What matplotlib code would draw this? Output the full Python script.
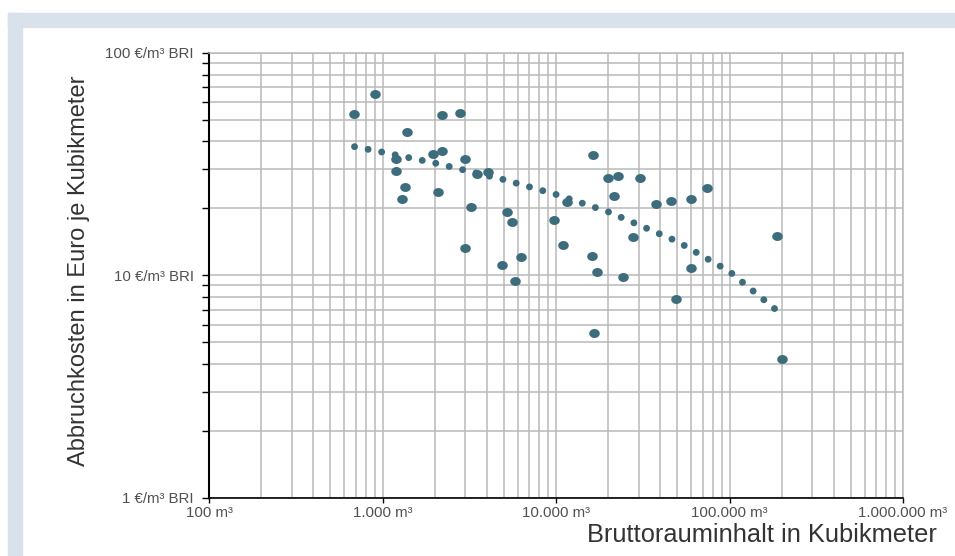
import matplotlib
matplotlib.use("Agg")
import matplotlib.pyplot as plt
import numpy as np
from matplotlib.path import Path
from matplotlib.markers import MarkerStyle
from matplotlib.patches import Rectangle
from matplotlib.ticker import FixedLocator, FixedFormatter, LogLocator, NullFormatter

# ---- data ----
volume_m3 = [688, 902, 2190, 2800, 1390, 1196, 1196, 1353, 1295, 1963, 2193, 2097,
             2989, 3491, 4074, 3223, 2989, 5198, 5578, 4864, 6310, 5827, 9739, 10930,
             11530, 16400, 16190, 17160, 16560, 19940, 22860, 30690, 21650, 27790,
             24240, 37710, 45810, 59760, 74470, 59760, 49350, 188600, 199900]
cost_eur = [53.3, 65.4, 52.6, 53.5, 44.0, 33.5, 29.5, 24.9, 22.0, 35.1, 36.2, 23.6,
            33.3, 28.5, 29.2, 20.2, 13.2, 19.2, 17.3, 11.1, 12.05, 9.46, 17.8, 13.7,
            21.4, 34.8, 12.2, 10.4, 5.5, 27.3, 28.1, 27.3, 22.7, 14.8,
            9.86, 20.9, 21.5, 22.0, 24.7, 10.75, 7.82, 15.1, 4.19]

trend_x = [690, 1000, 2000, 5000, 10000, 20000, 50000, 100000, 186000]
trend_y = [37.9, 35.8, 32.0, 26.95, 23.1, 19.3, 14.2, 10.4, 6.98]
trend_dots = 34  # number of dots in the dotted trend curve

x_ticks = [100, 1000, 10000, 100000, 1000000]
x_labels = ["100 m³", "1.000 m³", "10.000 m³", "100.000 m³", "1.000.000 m³"]
y_ticks = [1, 10, 100]
y_labels = ["1 €/m³ BRI", "10 €/m³ BRI", "100 €/m³ BRI"]

x_title = "Bruttorauminhalt in Kubikmeter"
y_title = "Abbruchkosten in Euro je Kubikmeter"

# ---- style ----
W, H = 955, 556
DOT = "#3d6c7c"
GRID = "#b9b9b9"
FRAME = "#d9e2ea"
TICKC = "#505050"
TITLEC = "#333333"
narrow = ["Liberation Sans Narrow", "Liberation Sans", "DejaVu Sans"]
regular = ["Liberation Sans", "DejaVu Sans"]

fig = plt.figure(figsize=(W / 100, H / 100), dpi=100)
fig.patch.set_facecolor("white")

# light frame (top and left bands)
fig.patches.append(Rectangle((8 / W, 1 - 27 / H), (W - 8) / W, 14 / H,
                             transform=fig.transFigure, color=FRAME, zorder=0))
fig.patches.append(Rectangle((8 / W, 0), 14 / W, (H - 13) / H,
                             transform=fig.transFigure, color=FRAME, zorder=0))

left, right, top, bottom = 209, 903, 53, 497.6
ax = fig.add_axes([left / W, 1 - bottom / H, (right - left) / W, (bottom - top) / H])
ax.set_xscale("log")
ax.set_yscale("log")
ax.set_xlim(100, 1e6)
ax.set_ylim(1, 100)

ax.xaxis.set_major_locator(FixedLocator(x_ticks))
ax.xaxis.set_major_formatter(FixedFormatter(x_labels))
ax.yaxis.set_major_locator(FixedLocator(y_ticks))
ax.yaxis.set_major_formatter(FixedFormatter(y_labels))
ax.xaxis.set_minor_locator(LogLocator(base=10, subs=np.arange(2, 10)))
ax.yaxis.set_minor_locator(LogLocator(base=10, subs=np.arange(2, 10)))
ax.xaxis.set_minor_formatter(NullFormatter())
ax.yaxis.set_minor_formatter(NullFormatter())

ax.grid(True, which="both", color=GRID, linewidth=1.1, zorder=0)
ax.set_axisbelow(True)

for s in ["top", "right"]:
    ax.spines[s].set_color(GRID)
    ax.spines[s].set_linewidth(1.1)
ax.spines["left"].set_color("black")
ax.spines["left"].set_linewidth(1.5)
ax.spines["bottom"].set_color("black")
ax.spines["bottom"].set_linewidth(1.2)

ax.tick_params(axis="y", which="both", direction="out", length=5, width=1,
               color="black", pad=6, labelsize=10.8, labelcolor=TICKC)
ax.tick_params(axis="x", which="major", direction="out", length=3.5, width=1,
               color="black", pad=2.5, labelsize=10.8, labelcolor=TICKC)
ax.tick_params(axis="x", which="minor", length=0)
for lab in ax.get_xticklabels() + ax.get_yticklabels():
    lab.set_family(narrow)

# trend (dotted curve) - spacing chosen so dots land on both ends
lw_pt = 5.0
lw_px = lw_pt * fig.dpi / 72.0
disp = ax.transData.transform(np.column_stack([trend_x, trend_y]))
arc = np.sum(np.hypot(np.diff(disp[:, 0]), np.diff(disp[:, 1])))
gap = arc / (trend_dots - 1) / lw_px * 0.995
ax.plot(trend_x, trend_y, color=DOT, linewidth=lw_pt,
        linestyle=(0, (0.001, gap - 0.001)), dash_capstyle="round", zorder=2)

# data points (slightly wide ellipses)
t = np.linspace(0, 2 * np.pi, 60)
verts = np.column_stack([1.18 * np.cos(t), np.sin(t)])
ell = MarkerStyle(Path(verts, closed=True))
ax.plot(volume_m3, cost_eur, linestyle="none", marker=ell, markersize=7.6,
        color=DOT, markeredgewidth=0, zorder=3)

fig.text(79 / W, 1 - 271 / H, y_title, rotation=90, ha="center", va="center",
         fontsize=17, color=TITLEC, family=regular)
fig.text(937 / W, 1 - 535 / H, x_title, ha="right", va="center",
         fontsize=18.3, color=TITLEC, family=regular)

fig.savefig("out.png", dpi=100, facecolor="white")
